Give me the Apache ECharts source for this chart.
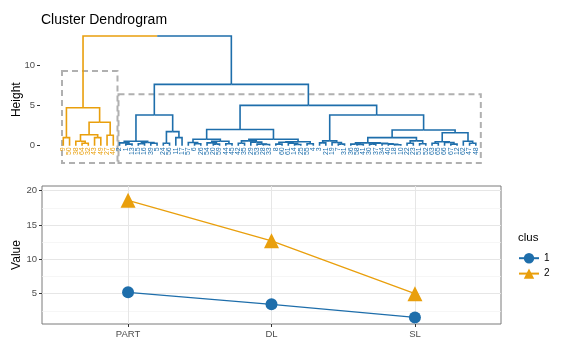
<!doctype html>
<html>
<head>
<meta charset="utf-8">
<title>Cluster Dendrogram</title>
<script src="https://cdn.jsdelivr.net/npm/echarts@6/dist/echarts.min.js"></script>
<style>
	html, body { margin: 0; padding: 0; background: #fff; }
	#main { width: 567px; height: 351px; }
</style>
</head>
<body>
<div id="main"></div>
<script type="text/javascript">
	// tree: leaf = label, node = [height, left, right]
	var rootHeight = 13.6;
	var orangeTree = [4.7,
		[1.0, "9", "50"],
		[2.9,
			[1.35, [0.55, "38", [0.3, "64", "32"]], [1.0, "43", "49"]],
			[1.3, "27", "46"]]];
	var blueTree = [7.6,
		[3.8,
			[0.55, [0.35, "2", [0.2, "1", "13"]], [0.4, [0.25, "15", "16"], [0.3, "39", "5"]]],
			[1.75, [0.3, "24", "56"], [1.0, "11", "17"]]],
		[5.0,
			[2.0,
				[0.8,
					[0.4, "57", [0.25, "6", "26"]],
					[0.55, [0.35, "54", [0.2, "20", "59"]], [0.25, "44", "45"]]],
				[0.8,
					[0.6, [0.3, "42", "35"], [0.45, "29", [0.2, "53", [0.15, "28", "33"]]]],
					[0.5, [0.42, [0.2, "8", "60"], [0.3, "61", [0.15, "14", "25"]]], [0.25, "55", "4"]]]],
			[3.8,
				[0.6, [0.35, "3", "21"], [0.4, "19", [0.2, "7", "31"]]],
				[1.95,
					[1.0,
						[0.35, [0.2, "36", [0.15, "58", "41"]], [0.3, [0.2, "30", "37"], [0.25, "34", [0.18, "40", [0.12, "18", "10"]]]]],
						[0.6, [0.3, "22", "23"], [0.25, "51", "52"]]],
					[1.6,
						[0.5, [0.3, "63", "65"], [0.4, "66", [0.2, "67", "12"]]],
						[0.55, "62", [0.3, "47", "48"]]]]]]];
	// dashed cluster boxes: [xmin, xmax, ymin, ymax]
	var clusterBoxes = [[0.79, 9.67, -2.14, 9.26], [9.83, 67.8, -2.14, 6.37]];
	var heightTicks = [0, 5, 10];

	// profile plot
	var categories = ['PART', 'DL', 'SL'];
	var clus1Values = [5.2, 3.45, 1.55];
	var clus2Values = [18.6, 12.7, 5.0];
	var valueTicks = [5, 10, 15, 20];
	var valueMinorTicks = [2.5, 7.5, 12.5, 17.5];

	var orange = '#E99F0C';
	var blue = '#1E6EAB';
	var fontFam = 'Liberation Sans, Arial, sans-serif';

	var leafCount = 0;
	function layout(node, segs, labels) {
		if (typeof node === 'string') {
			leafCount++;
			labels.push(node);
			return { x: leafCount, h: 0 };
		}
		var a = layout(node[1], segs, labels);
		var b = layout(node[2], segs, labels);
		var x = (a.x + b.x) / 2;
		segs.push([x, node[0], a.x, a.h]);
		segs.push([x, node[0], b.x, b.h]);
		return { x: x, h: node[0] };
	}

	var orangeSegs = [], orangeLabels = [];
	var blueSegs = [], blueLabels = [];
	var o = layout(orangeTree, orangeSegs, orangeLabels);
	var orangeStart = 1;
	var b = layout(blueTree, blueSegs, blueLabels);
	var blueStart = orangeLabels.length + 1;
	var rx = (o.x + b.x) / 2;
	orangeSegs.push([rx, rootHeight, o.x, o.h]);
	blueSegs.push([rx, rootHeight, b.x, b.h]);

	function leafData(labels, start) {
		var d = [];
		for (var i = 0; i < labels.length; i++) {
			d.push([start + i, 0]);
		}
		return d;
	}

	function renderSeg(params, api) {
		var p0 = api.coord([api.value(0), api.value(1)]);
		var p1 = api.coord([api.value(2), api.value(1)]);
		var p2 = api.coord([api.value(2), api.value(3)]);
		return {
			type: 'polyline',
			shape: { points: [p0, p1, p2] },
			style: { stroke: api.visual('color'), fill: null, lineWidth: 1.6 }
		};
	}

	function labelRenderer(labels, color) {
		return function(params, api) {
			var p = api.coord([api.value(0), -0.2]);
			return {
				type: 'text',
				x: p[0],
				y: p[1],
				rotation: Math.PI / 2,
				style: {
					text: labels[params.dataIndex],
					fill: color,
					font: '7px ' + fontFam,
					align: 'right',
					verticalAlign: 'middle'
				}
			};
		};
	}

	function renderBox(params, api) {
		var p0 = api.coord([api.value(0), api.value(3)]);
		var p1 = api.coord([api.value(1), api.value(2)]);
		return {
			type: 'rect',
			shape: { x: p0[0], y: p0[1], width: p1[0] - p0[0], height: p1[1] - p0[1] },
			style: { stroke: '#b0b0b0', fill: null, lineWidth: 2, lineDash: [6, 4] }
		};
	}

	function toPoints(vals) {
		var d = [];
		for (var i = 0; i < vals.length; i++) {
			d.push([i + 1, vals[i]]);
		}
		return d;
	}
	var catPos = categories.map(function(c, i) { return i + 1; });

	var chart = echarts.init(document.getElementById('main'));
	var option = {
		animation: false,
		textStyle: { fontFamily: fontFam },
		title: [{
			text: 'Cluster Dendrogram',
			left: 36,
			top: 8,
			textStyle: { fontSize: 14, fontWeight: 'normal', color: '#000' }
		}, {
			text: 'clus',
			left: 513,
			top: 227,
			textStyle: { fontSize: 11.5, fontWeight: 'normal', color: '#000' }
		}],
		legend: {
			data: ['1', '2'],
			orient: 'vertical',
			left: 513,
			top: 248,
			itemWidth: 20,
			itemHeight: 13,
			itemGap: 5,
			textStyle: { fontSize: 10, color: '#000' }
		},
		grid: [
			{ left: 40, top: 32.7, width: 442, height: 134, outerBoundsMode: 'none' },
			{ left: 42, top: 186, width: 459, height: 138, outerBoundsMode: 'none', show: true, borderColor: '#7a7a7a', borderWidth: 1 }
		],
		xAxis: [
			{ type: 'value', gridIndex: 0, min: -2.728, max: 67.99, show: false },
			{
				type: 'value', gridIndex: 1, min: 0.4, max: 3.6,
				axisLine: { show: false, onZero: false },
				axisTick: { customValues: catPos, length: 3, lineStyle: { color: '#333' } },
				axisLabel: {
					customValues: catPos, margin: 5, fontSize: 9.5, color: '#4d4d4d',
					formatter: function(v) { return categories[v - 1]; }
				},
				splitLine: { show: true, lineStyle: { color: '#e6e6e6', width: 1 } }
			}
		],
		yAxis: [
			{
				type: 'value', gridIndex: 0, min: -2.6, max: 14,
				name: 'Height', nameLocation: 'middle', nameGap: 17, nameMoveOverlap: false,
				nameTextStyle: { fontSize: 12, color: '#000' },
				axisLine: { show: false, onZero: false },
				axisTick: { show: true, customValues: heightTicks, length: 3, lineStyle: { color: '#333' } },
				axisLabel: { customValues: heightTicks, margin: 5, fontSize: 9.5, color: '#4d4d4d' },
				splitLine: { show: false }
			},
			{
				type: 'value', gridIndex: 1, min: 0.59, max: 20.68,
				name: 'Value', nameLocation: 'middle', nameGap: 19, nameMoveOverlap: false,
				nameTextStyle: { fontSize: 12, color: '#000' },
				axisLine: { show: false, onZero: false },
				axisTick: { customValues: valueTicks, length: 3, lineStyle: { color: '#333' } },
				axisLabel: { customValues: valueTicks, margin: 5, fontSize: 9.5, color: '#4d4d4d' },
				splitLine: { show: true, lineStyle: { color: '#e6e6e6', width: 1 } }
			},
			{
				// minor grid lines
				type: 'value', gridIndex: 1, min: 0.59, max: 20.68,
				axisLine: { show: false, onZero: false },
				axisTick: { show: false, customValues: valueMinorTicks },
				axisLabel: { show: false },
				splitLine: { show: true, lineStyle: { color: '#f2f2f2', width: 0.7 } }
			}
		],
		series: [
			{ type: 'custom', xAxisIndex: 0, yAxisIndex: 0, silent: true, data: clusterBoxes, renderItem: renderBox },
			{ type: 'custom', xAxisIndex: 0, yAxisIndex: 0, silent: true, itemStyle: { color: orange }, data: orangeSegs, renderItem: renderSeg },
			{ type: 'custom', xAxisIndex: 0, yAxisIndex: 0, silent: true, itemStyle: { color: blue }, data: blueSegs, renderItem: renderSeg },
			{ type: 'custom', xAxisIndex: 0, yAxisIndex: 0, silent: true, data: leafData(orangeLabels, orangeStart), renderItem: labelRenderer(orangeLabels, orange) },
			{ type: 'custom', xAxisIndex: 0, yAxisIndex: 0, silent: true, data: leafData(blueLabels, blueStart), renderItem: labelRenderer(blueLabels, blue) },
			{
				name: '1', type: 'line', xAxisIndex: 1, yAxisIndex: 1,
				data: toPoints(clus1Values),
				symbol: 'circle', symbolSize: 12,
				itemStyle: { color: blue },
				lineStyle: { color: blue, width: 1.3 }
			},
			{
				name: '2', type: 'line', xAxisIndex: 1, yAxisIndex: 1,
				data: toPoints(clus2Values),
				symbol: 'triangle', symbolSize: 15,
				itemStyle: { color: orange },
				lineStyle: { color: orange, width: 1.3 }
			}
		]
	};
	chart.setOption(option);
</script>
</body>
</html>
